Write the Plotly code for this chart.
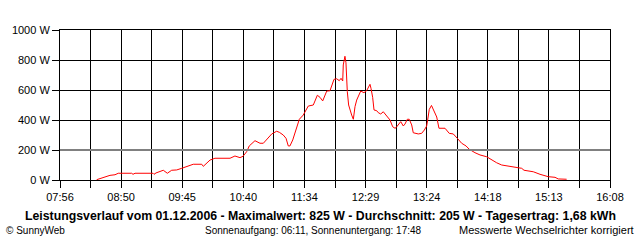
import plotly.graph_objects as go
import numpy as np

# Data (time of day, watts)
times = ["08:28.8","08:34.7","08:40.7","08:45.2","08:48.1","09:00.1","09:01.3","09:03.1","09:19.2","09:20.1",
         "09:21.9","09:28.4","09:32.0","09:35.9","09:40.4","09:44.9","09:49.3","09:55.2","10:02.8","10:04.2",
         "10:10.2","10:14.6","10:28.1","10:32.5","10:37.0","10:39.7","10:43.0","10:45.3","10:50.4","10:54.9",
         "10:57.9","11:02.3","11:05.4","11:09.8","11:12.2","11:15.7","11:18.2","11:20.2","11:21.7","11:24.2",
         "11:27.1","11:30.1","11:33.6","11:38.1","11:42.6","11:46.2","11:48.6","11:51.0","11:54.6","11:57.5",
         "12:01.1","12:03.5","12:05.8","12:07.4","12:08.9","12:09.4","12:10.9","12:11.8","12:13.0","12:14.2",
         "12:16.9","12:18.4","12:19.9","12:21.4","12:25.0","12:27.9","12:30.3","12:31.8","12:33.3","12:34.2",
         "12:35.7","12:36.9","12:39.3","12:40.7","12:42.9","12:45.2","12:48.2","12:51.2","12:53.6","12:55.7",
         "12:56.6","12:59.5","13:00.8","13:03.1","13:04.6","13:06.7","13:08.4","13:10.6","13:12.0","13:16.5",
         "13:19.5","13:21.9","13:24.0","13:24.9","13:26.3","13:28.3","13:30.5","13:33.0","13:35.0","13:38.9",
         "13:40.4","13:44.2","13:47.8","13:51.4","13:55.3","13:59.2","14:02.1","14:07.2","14:11.7","14:17.7",
         "14:22.2","14:26.6","14:31.1","14:37.0","14:43.0","14:49.0","14:51.1","14:59.4","15:05.4","15:12.8",
         "15:18.8","15:21.7","15:29.2"]
watts = [2,18,31,35,45,45,38,45,45,38,
         47,65,45,65,67,78,89,105,105,91,
         133,145,145,160,149,158,189,227,262,245,
         245,278,307,325,318,300,278,227,227,267,
         333,405,433,493,500,565,551,527,593,595,
         671,675,662,678,660,767,825,782,589,500,
         433,405,489,533,593,582,595,618,638,611,
         551,467,462,449,440,455,427,400,355,345,
         349,378,389,360,373,405,405,367,315,307,
         311,333,360,400,470,497,462,420,345,342,
         345,311,307,278,245,227,205,182,167,155,
         133,115,100,93,82,78,65,55,38,22,
         18,7,5]

x_start_label = "07:56"
x_end_label = "16:08"
x_tick_labels = ["07:56","08:50","09:45","10:40","11:34","12:29","13:24","14:18","15:13","16:08"]
y_tick_vals = [0,200,400,600,800,1000]
y_tick_labels = ["0 W","200 W","400 W","600 W","800 W","1000 W"]

title_text = "Leistungsverlauf vom 01.12.2006 - Maximalwert: 825 W - Durchschnitt: 205 W - Tagesertrag: 1,68 kWh"
footer_left = "© SunnyWeb"
footer_mid = "Sonnenaufgang: 06:11, Sonnenuntergang: 17:48"
footer_right = "Messwerte Wechselrichter korrigiert"

def to_min(s):
    h, m = s.split(":")
    return int(h) * 60 + float(m)

xm = [to_min(t) for t in times]
x0 = to_min(x_start_label)
x1 = to_min(x_end_label)
tickvals = list(np.linspace(x0, x1, 2 * len(x_tick_labels) - 1))
ticktext = []
for i, lab in enumerate(x_tick_labels):
    ticktext.append(lab)
    if i < len(x_tick_labels) - 1:
        ticktext.append("")

FONT = "Liberation Sans, Arial, sans-serif"

fig = go.Figure()
fig.add_trace(go.Scatter(x=xm, y=watts, mode="lines",
                         line=dict(color="#ff0000", width=1), hoverinfo="skip"))

fig.add_hline(y=200, line=dict(color="#808080", width=2), layer="above")

fig.update_layout(
    width=640, height=240,
    margin=dict(l=60, r=30, t=30, b=60, pad=0),
    paper_bgcolor="white", plot_bgcolor="white",
    showlegend=False,
    font=dict(family=FONT, size=11, color="black"),
    xaxis=dict(range=[x0, x1], tickvals=tickvals, ticktext=ticktext,
               showgrid=True, gridcolor="black", gridwidth=1,
               showline=True, linecolor="black", linewidth=1, mirror=True,
               ticks="outside", ticklen=7, tickcolor="black", tickwidth=1,
               zeroline=False, tickfont=dict(size=11)),
    yaxis=dict(range=[0, 1000], tickvals=y_tick_vals, ticktext=y_tick_labels,
               showgrid=True, gridcolor="black", gridwidth=1,
               showline=True, linecolor="black", linewidth=1, mirror=True,
               ticks="outside", ticklen=7, tickcolor="black", tickwidth=1,
               zeroline=False, tickfont=dict(size=11)),
)

fig.add_annotation(text="<b>" + title_text + "</b>", xref="paper", yref="paper",
                   x=(320 - 60) / 550, y=-0.24, xanchor="center", yanchor="middle", showarrow=False,
                   font=dict(size=12.3, family=FONT, color="black"))
fig.add_annotation(text=footer_left, xref="paper", yref="paper",
                   x=-0.1, xshift=-1, y=-0.335, xanchor="left", yanchor="middle", showarrow=False,
                   font=dict(size=10, family=FONT, color="black"))
fig.add_annotation(text=footer_mid, xref="paper", yref="paper",
                   x=(203 - 60) / 550, y=-0.335, xanchor="left", yanchor="middle", showarrow=False,
                   font=dict(size=10, family=FONT, color="black"))
fig.add_annotation(text=footer_right, xref="paper", yref="paper",
                   x=(636 - 60) / 550, y=-0.335, xanchor="right", yanchor="middle", showarrow=False,
                   font=dict(size=11, family=FONT, color="black"))

fig.write_html("out.html")
